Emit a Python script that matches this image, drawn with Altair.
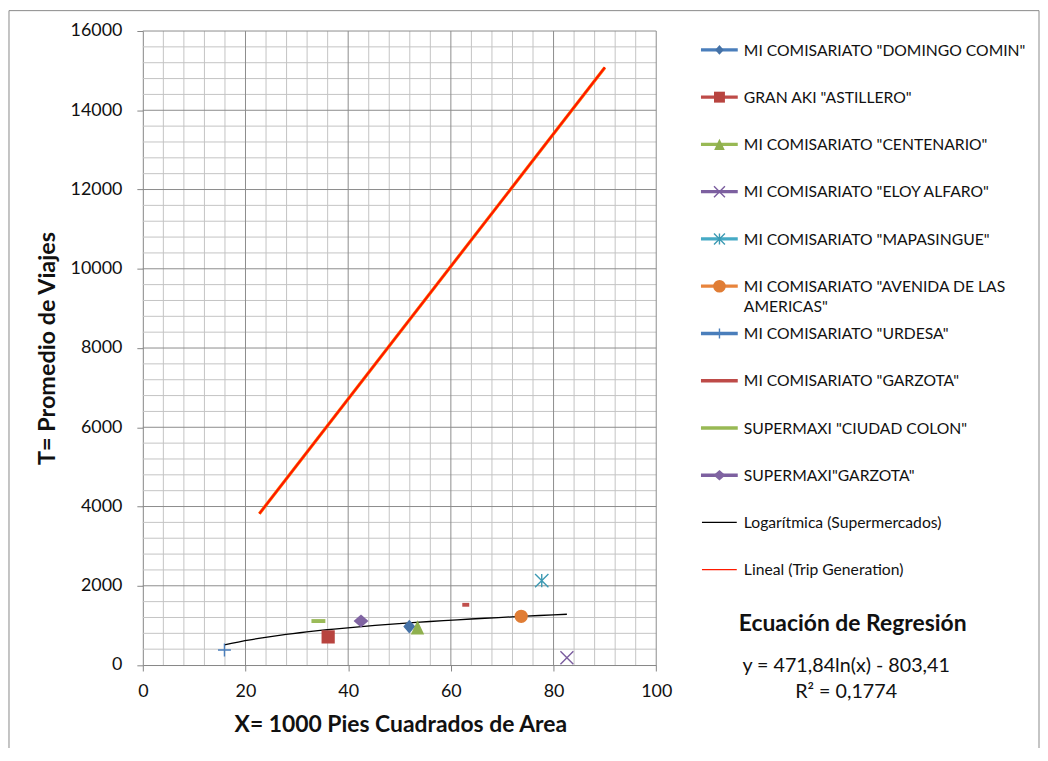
import altair as alt
import pandas as pd

# ---------------- data ----------------
names = [
    'MI COMISARIATO "DOMINGO COMIN"',
    'GRAN AKI "ASTILLERO"',
    'MI COMISARIATO "CENTENARIO"',
    'MI COMISARIATO "ELOY ALFARO"',
    'MI COMISARIATO "MAPASINGUE"',
    'MI COMISARIATO "AVENIDA DE LAS AMERICAS"',
    'MI COMISARIATO "URDESA"',
    'MI COMISARIATO "GARZOTA"',
    'SUPERMAXI "CIUDAD COLON"',
    'SUPERMAXI"GARZOTA"',
]
area_x = [51.9, 36.1, 53.5, 82.6, 77.7, 73.7, 15.9, 62.9, 34.2, 42.5]
trips_y = [970, 710, 950, 185, 2130, 1230, 380, 1520, 1110, 1110]

trend_names = ["Logarítmica (Supermercados)", "Lineal (Trip Generation)"]
trip_gen_x = [22.7, 90.0]
trip_gen_y = [3820, 15080]

x_ticks = [0, 20, 40, 60, 80, 100]
y_ticks = [0, 2000, 4000, 6000, 8000, 10000, 12000, 14000, 16000]
x_minor = [v for v in range(0, 101, 4) if v % 20]
y_minor = [v for v in range(0, 16001, 400) if v % 2000]

legend_labels = [
    'MI COMISARIATO "DOMINGO COMIN"',
    'GRAN AKI "ASTILLERO"',
    'MI COMISARIATO "CENTENARIO"',
    'MI COMISARIATO "ELOY ALFARO"',
    'MI COMISARIATO "MAPASINGUE"',
    'MI COMISARIATO "AVENIDA DE LAS\nAMERICAS"',
    'MI COMISARIATO "URDESA"',
    'MI COMISARIATO "GARZOTA"',
    'SUPERMAXI "CIUDAD COLON"',
    'SUPERMAXI"GARZOTA"',
    "Logarítmica (Supermercados)",
    "Lineal (Trip Generation)",
]
equation_title = ["Ecuación de Regresión"]
equation_lines = ["y = 471,84ln(x) - 803,41", "R² = 0,1774"]

# ---------------- styles ----------------
colors = ["#4572A7", "#B8443F", "#8FB04E", "#7A5C9E", "#3D9AB3",
          "#E07D35", "#4A7EBB", "#C0504D", "#9BBB59", "#8064A2"]
line_colors = ["#4A7EBB", "#BE4B48", "#98B954", "#7D60A0", "#46AAC5",
               "#E8843C", "#4A7EBB", "#BE4B48", "#98B954", "#7D60A0"]
DIAMOND = "M0,-1L0.86,0L0,1L-0.86,0Z"
WDIAMOND = "M0,-0.87L1,0L0,0.87L-1,0Z"
SQUARE = "M-1,-1L1,-1L1,1L-1,1Z"
TRI = "M0,-1L0.93,1L-0.93,1Z"
XMARK = "M-1,-1L1,1M-1,1L1,-1"
ASTER = "M-1,-1L1,1M-1,1L1,-1M0,-1L0,1"
CIRCLE = "circle"
PLUS = "M-1,0L1,0M0,-1L0,1"
DASH_S = "M-1,-0.55L1,-0.55L1,0.55L-1,0.55Z"
DASH_L = "M-1,-0.28L1,-0.28L1,0.28L-1,0.28Z"
shapes = [DIAMOND, SQUARE, TRI, XMARK, ASTER, CIRCLE, PLUS, DASH_S, DASH_L, WDIAMOND]
sizes = [196, 177, 210, 169, 180, 177, 169, 49, 196, 225]
filled = [True, True, True, False, False, True, False, True, True, True]
leg_sizes = [100, 121, 130, 121, 121, 160, 100, 0, 0, 144]

W, H = 516.4, 637.7
FONT = "Lato"
TXT = "#111111"

df = pd.DataFrame({"name": names, "x": area_x, "y": trips_y})
df_trip = pd.DataFrame({"x": trip_gen_x, "y": trip_gen_y})
df_leg = pd.DataFrame({"idx": list(range(len(legend_labels))), "label": legend_labels})

xs = alt.Scale(domain=[0, 100], nice=False, zero=False)
ys = alt.Scale(domain=[0, 16000], nice=False, zero=False)

xaxis = alt.Axis(values=x_ticks, grid=False, domainColor="#868686", tickColor="#868686",
                 tickSize=6, labelFontSize=18, labelColor=TXT, labelPadding=21,
                 labelBaseline="middle", labelFlush=False, format="d",
                 titleFontSize=23, titleFontWeight="bold", titleColor=TXT,
                 titleX=259, titleY=60, titleBaseline="middle", titleAlign="center")
yaxis = alt.Axis(values=y_ticks, grid=False, domainColor="#868686", tickColor="#868686",
                 tickSize=6, labelFontSize=18, labelColor=TXT, labelPadding=15,
                 format="d", labelFlush=False,
                 titleFontSize=23.5, titleFontWeight="bold", titleColor=TXT,
                 titleX=-96, titleY=H / 2, titleAngle=270, titleBaseline="middle",
                 titleAlign="center")
XT = "X= 1000 Pies Cuadrados de Area"
YT = "T= Promedio de Viajes"


def X(f):
    return alt.X(f"{f}:Q", scale=xs, axis=xaxis, title=XT)


def Y(f):
    return alt.Y(f"{f}:Q", scale=ys, axis=yaxis, title=YT)


main = []
# outer chart border
main.append(alt.Chart(pd.DataFrame({"a": [0]})).mark_rect(
    fillOpacity=0, stroke="#8a8a8a", strokeWidth=1).encode(
    x=alt.value(-134.6), x2=alt.value(901.4), y=alt.value(-20.5), y2=alt.value(740)))
# grid
main.append(alt.Chart(pd.DataFrame({"v": x_minor})).mark_rule(color="#c4c4c4", strokeWidth=1).encode(x=X("v")))
main.append(alt.Chart(pd.DataFrame({"v": y_minor})).mark_rule(color="#c4c4c4", strokeWidth=1).encode(y=Y("v")))
main.append(alt.Chart(pd.DataFrame({"v": x_ticks[1:]})).mark_rule(color="#8c8c8c", strokeWidth=1).encode(x=X("v")))
main.append(alt.Chart(pd.DataFrame({"v": y_ticks[1:]})).mark_rule(color="#8c8c8c", strokeWidth=1).encode(y=Y("v")))

# trip generation linear line
main.append(alt.Chart(df_trip).mark_line(color="#FF7A00", strokeWidth=3.2).encode(x=X("x"), y=Y("y")))
main.append(alt.Chart(df_trip).mark_line(color="#FF1500", strokeWidth=2.0).encode(x=X("x"), y=Y("y")))

# log regression of supermarkets
main.append(alt.Chart(df).transform_regression("x", "y", method="log").mark_line(
    color="#000000", strokeWidth=1.3).encode(x=X("x"), y=Y("y")))

# points
for i, n in enumerate(names):
    kw = dict(shape=shapes[i], size=sizes[i], opacity=1)
    if filled[i]:
        kw.update(filled=True, fill=colors[i], strokeWidth=0)
    else:
        kw.update(filled=False, stroke=colors[i], strokeWidth=1.4)
    main.append(alt.Chart(df).transform_filter(alt.datum.name == n).mark_point(**kw).encode(
        x=X("x"), y=Y("y")))

# regression equation text
main.append(alt.Chart(pd.DataFrame({"t": equation_title})).mark_text(
    fontSize=23, fontWeight="bold", color=TXT, align="center", baseline="middle").encode(
    text="t:N", x=alt.value(714), y=alt.value(596)))
main.append(alt.Chart(pd.DataFrame({"t": equation_lines, "k": [0, 1]})).transform_filter(
    alt.datum.k == 0).mark_text(fontSize=19.8, color=TXT, align="center", baseline="middle").encode(
    text="t:N", x=alt.value(707.4), y=alt.value(639)))
main.append(alt.Chart(pd.DataFrame({"t": equation_lines, "k": [0, 1]})).transform_filter(
    alt.datum.k == 1).mark_text(fontSize=19.8, color=TXT, align="center", baseline="middle").encode(
    text="t:N", x=alt.value(707.4), y=alt.value(665)))

main_layer = alt.layer(*main)

# ---------------- legend (own y scale over entry index) ----------------
ls = alt.Scale(domain=[-0.3996, 13.017], nice=False, zero=False, reverse=True)


def LY():
    return alt.Y("idx:Q", scale=ls, axis=None)


leg = []
LX0, LX1, LXM, LXT = 561.4, 598.4, 580.0, 604.5
for i in range(len(legend_labels)):
    if i < 10:
        lc, lw, x0, x1 = line_colors[i], 3.4, LX0, LX1
    elif i == 10:
        lc, lw, x0, x1 = "#000000", 1.2, LX0 + 1, LX1 - 1
    else:
        lc, lw, x0, x1 = "#FF1A00", 1.2, LX0 + 1, LX1 - 1
    leg.append(alt.Chart(df_leg).transform_filter(alt.datum.idx == i).mark_rule(
        color=lc, strokeWidth=lw).encode(x=alt.value(x0), x2=alt.value(x1), y=LY()))
    if i < 10 and leg_sizes[i] > 0:
        kw = dict(shape=shapes[i], size=leg_sizes[i], opacity=1)
        if filled[i]:
            kw.update(filled=True, fill=colors[i], strokeWidth=0)
        else:
            kw.update(filled=False, stroke=colors[i], strokeWidth=1.4)
        leg.append(alt.Chart(df_leg).transform_filter(alt.datum.idx == i).mark_point(**kw).encode(
            x=alt.value(LXM), y=LY()))
leg.append(alt.Chart(df_leg).mark_text(
    fontSize=15.8, color=TXT, align="left", baseline="alphabetic", dy=5.7,
    lineBreak="\n", lineHeight=20.6).encode(text="label:N", x=alt.value(LXT), y=LY()))

legend_layer = alt.layer(*leg)

chart = alt.layer(main_layer, legend_layer).resolve_scale(y="independent").properties(
    width=W, height=H,
    autosize=alt.AutoSizeParams(type="none"),
    padding={"left": 135.6, "top": 21, "right": 1038 - 135.6 - W, "bottom": 740 - 21 - H},
).configure(font=FONT).configure_view(strokeWidth=0)

chart.save("out.html", embed_options={"renderer": "svg", "actions": False})
